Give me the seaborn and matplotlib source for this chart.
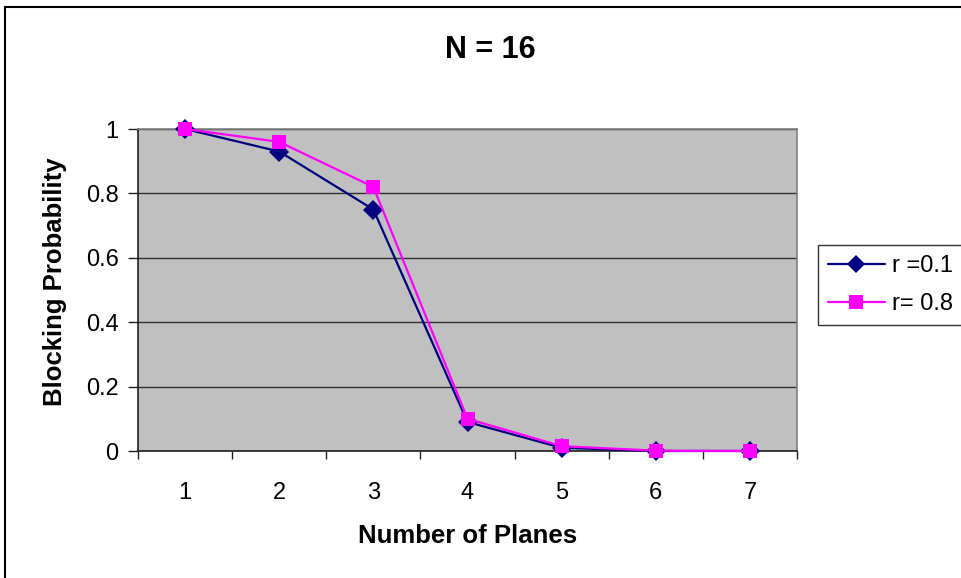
import matplotlib
matplotlib.use("Agg")
import matplotlib.pyplot as plt
import seaborn as sns
import pandas as pd
from matplotlib.patches import Rectangle

planes = [1, 2, 3, 4, 5, 6, 7]
r01 = [1.0, 0.93, 0.75, 0.09, 0.01, 0.0, 0.0]
r08 = [1.0, 0.96, 0.82, 0.10, 0.015, 0.001, 0.0]
series_names = ["r =0.1", "r= 0.8"]
y_ticks = [0, 0.2, 0.4, 0.6, 0.8, 1]

df = pd.DataFrame({
    "planes": planes * 2,
    "prob": r01 + r08,
    "series": [series_names[0]] * len(planes) + [series_names[1]] * len(planes),
})

sns.set_style("ticks")
plt.rcParams["font.family"] = ["Liberation Sans", "DejaVu Sans"]
plt.rcParams["text.color"] = "black"
plt.rcParams["axes.labelcolor"] = "black"
plt.rcParams["xtick.color"] = "black"
plt.rcParams["ytick.color"] = "black"

fig = plt.figure(figsize=(9.61, 5.78), dpi=100)
ax = fig.add_axes([138 / 961, 1 - 451 / 578, (797 - 138) / 961, (451 - 129) / 578])
ax.set_facecolor("#C0C0C0")

palette = {series_names[0]: "#000080", series_names[1]: "#FF00FF"}
sns.lineplot(data=df, x="planes", y="prob", hue="series", style="series",
             markers={series_names[0]: "D", series_names[1]: "s"},
             dashes=False, palette=palette, linewidth=1.6, markersize=10,
             markeredgewidth=0, ax=ax, legend=True, clip_on=False, zorder=3)

ax.set_xlim(0.5, 7.5)
ax.set_ylim(0, 1)
ax.set_yticks(y_ticks)
ax.set_yticklabels([f"{t:g}" for t in y_ticks])
ax.set_xticks(planes)
ax.yaxis.grid(True, color="#303030", linewidth=1)
ax.set_axisbelow(True)

# category boundary tick marks on the x axis
ax.set_xticks([p + 0.5 for p in [0] + planes], minor=True)
ax.tick_params(axis="x", which="major", bottom=True, length=0, labelsize=17, pad=22)
ax.tick_params(axis="x", which="minor", bottom=True, length=6, width=1,
               color="#202020", direction="out")
ax.tick_params(axis="y", left=True, length=7, width=1, color="#202020",
               direction="out", labelsize=17, pad=7)

for side in ["left", "bottom"]:
    ax.spines[side].set_visible(True)
    ax.spines[side].set_color("#202020")
    ax.spines[side].set_linewidth(1.2)
for side in ["top", "right"]:
    ax.spines[side].set_visible(True)
    ax.spines[side].set_color("#808080")
    ax.spines[side].set_linewidth(1.2)

ax.set_xlabel("Number of Planes", fontsize=18.5, fontweight="bold")
ax.set_ylabel("Blocking Probability", fontsize=18.5, fontweight="bold")
ax.xaxis.set_label_coords(0.5, -(524 - 451) / 322)
ax.yaxis.set_label_coords(-(138 - 67) / 659, (451 - 282) / 322)

fig.text(490 / 961, 1 - 58 / 578, "N = 16", ha="center", va="baseline",
         fontsize=22, fontweight="bold")

handles, labels = ax.get_legend_handles_labels()
leg = ax.legend(handles, labels, loc="upper left",
                bbox_to_anchor=(818 / 961, 1 - 245 / 578), bbox_transform=fig.transFigure,
                frameon=True, fancybox=False, edgecolor="black", fontsize=17,
                handlelength=2.4, handletextpad=0.3, borderpad=0.42,
                labelspacing=0.7, borderaxespad=0)
leg.get_frame().set_linewidth(1.0)
for h in leg.legend_handles:
    h.set_markersize(9.5)

# outer chart border
fig.patches.append(Rectangle((5 / 961, -0.01), 1.0, 1 - 7 / 578 + 0.01,
                             transform=fig.transFigure, fill=False,
                             edgecolor="black", linewidth=1.5))

fig.savefig("out.png", dpi=100)
